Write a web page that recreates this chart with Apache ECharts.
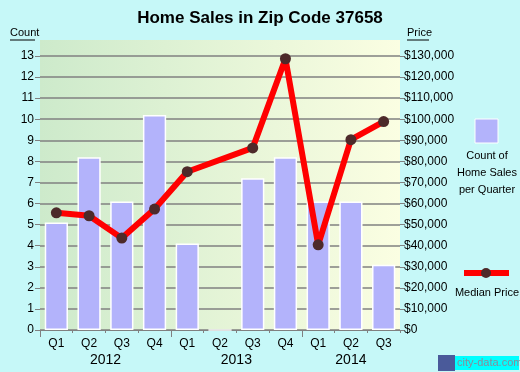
<!DOCTYPE html>
<html>
<head>
<meta charset="utf-8">
<script src="https://cdn.jsdelivr.net/npm/echarts@6/dist/echarts.min.js"></script>
<style>
html,body{margin:0;padding:0;background:#c6f8f8;}
#c{width:520px;height:372px;}
</style>
</head>
<body>
<div id="c"></div>
<script>
var quarters = ['Q1','Q2','Q3','Q4','Q1','Q2','Q3','Q4','Q1','Q2','Q3'];
var years = ['2012','2013','2014'];
var yearCenters = [2, 6, 9.5];
var yearBounds = [0, 4, 8];
var salesCount = [5.1, 8.2, 6.1, 10.2, 4.1, 0, 7.2, 8.2, 6.1, 6.1, 3.1];
var medianPrice = [55600, 54200, 43600, 57400, 75100, null, 86400, 128700, 40400, 90300, 98900];

var FONT = 'Arial, "Liberation Sans", sans-serif';
var chart = echarts.init(document.getElementById('c'), null, {renderer:'canvas'});
chart.setOption({
  backgroundColor: '#c6f8f8',
  animation: false,
  title: {
    text: 'Home Sales in Zip Code 37658',
    left: 'center', top: 5,
    textStyle: {fontFamily: FONT, fontSize: 17, fontWeight: 'bold', color: '#000'}
  },
  grid: {
    left: 40, right: 120, top: 56, bottom: 42,
    show: false
  },
  xAxis: [{
    type: 'category', data: quarters, position: 'bottom',
    axisLine: {show: true, lineStyle: {color: '#808080', width: 1}},
    axisTick: {show: true, length: 3, lineStyle: {color: '#808080'}},
    axisLabel: {fontFamily: FONT, fontSize: 12, color: '#000', margin: 8},
    splitLine: {show: false}
  }, {
    type: 'value', min: 0, max: 11, position: 'bottom',
    axisLine: {show: false},
    axisTick: {show: true, length: 7, customValues: yearBounds, lineStyle: {color: '#808080'}},
    axisLabel: {
      fontFamily: FONT, fontSize: 14, color: '#000', margin: 23,
      customValues: yearCenters,
      formatter: function (v) { return years[yearCenters.indexOf(v)] || ''; }
    },
    splitLine: {show: false}
  }],
  yAxis: [{
    type: 'value', min: 0, max: 13, interval: 1, position: 'left',
    axisLine: {show: false},
    axisTick: {show: true, length: 5, lineStyle: {color: '#808080'}},
    axisLabel: {fontFamily: FONT, fontSize: 12, color: '#000', margin: 6},
    splitLine: {show: true, lineStyle: {color: '#808080', width: 1.5}}
  }, {
    type: 'value', min: 0, max: 130000, interval: 10000, position: 'right',
    axisLine: {show: false},
    axisTick: {show: true, length: 5, lineStyle: {color: '#808080'}},
    axisLabel: {
      fontFamily: FONT, fontSize: 12, color: '#000', margin: 4,
      formatter: function (v) { return '$' + v.toLocaleString('en-US'); }
    },
    splitLine: {show: false}
  }],
  series: [{
    type: 'bar', data: salesCount, xAxisIndex: 0, yAxisIndex: 0,
    barCategoryGap: '29%',
    itemStyle: {color: '#b3b3fb', borderColor: '#ffffff', borderWidth: 1.5}
  }, {
    type: 'line', data: medianPrice, xAxisIndex: 0, yAxisIndex: 1,
    connectNulls: true,
    lineStyle: {color: '#ff0000', width: 6},
    symbol: 'circle', symbolSize: 11,
    itemStyle: {color: '#4d2a2a'},
    z: 5
  }],
  graphic: [
    {type: 'rect', z: -10, shape: {x: 40, y: 40, width: 360, height: 290},
      style: {fill: new echarts.graphic.LinearGradient(0, 0, 1, 0, [
        {offset: 0, color: '#cdeacb'},
        {offset: 1, color: '#fbfee2'}
      ])}},
    {type: 'text', left: 10, top: 27, style: {text: 'Count', font: '11px ' + FONT, fill: '#000'}},
    {type: 'line', shape: {x1: 10, y1: 40, x2: 35, y2: 40}, style: {stroke: '#000', lineWidth: 1}},
    {type: 'text', left: 407, top: 27, style: {text: 'Price', font: '11px ' + FONT, fill: '#000'}},
    {type: 'line', shape: {x1: 407, y1: 40, x2: 429, y2: 40}, style: {stroke: '#000', lineWidth: 1}},
    {type: 'rect', shape: {x: 475, y: 119, width: 23, height: 24}, style: {fill: '#b3b3fb', stroke: '#fff', lineWidth: 1}},
    {type: 'text', x: 487, y: 147, style: {text: 'Count of\nHome Sales\nper Quarter', font: '11px ' + FONT, fill: '#000', align: 'center', lineHeight: 17}},
    {type: 'line', shape: {x1: 464, y1: 273, x2: 509, y2: 273}, style: {stroke: '#ff0000', lineWidth: 6}},
    {type: 'circle', shape: {cx: 486, cy: 273, r: 5}, style: {fill: '#4d2a2a'}},
    {type: 'text', x: 487, y: 287, style: {text: 'Median Price', font: '11px ' + FONT, fill: '#000', align: 'center'}},
    {type: 'rect', shape: {x: 438, y: 355, width: 17, height: 16}, style: {fill: '#4a5a9a'}},
    {type: 'rect', shape: {x: 455, y: 356, width: 64, height: 14}, style: {fill: '#00ffff'}},
    {type: 'text', x: 457, y: 357, style: {text: 'city-data.com', font: '11px ' + FONT, fill: '#8a8a9a'}}
  ]
});
</script>
</body>
</html>
